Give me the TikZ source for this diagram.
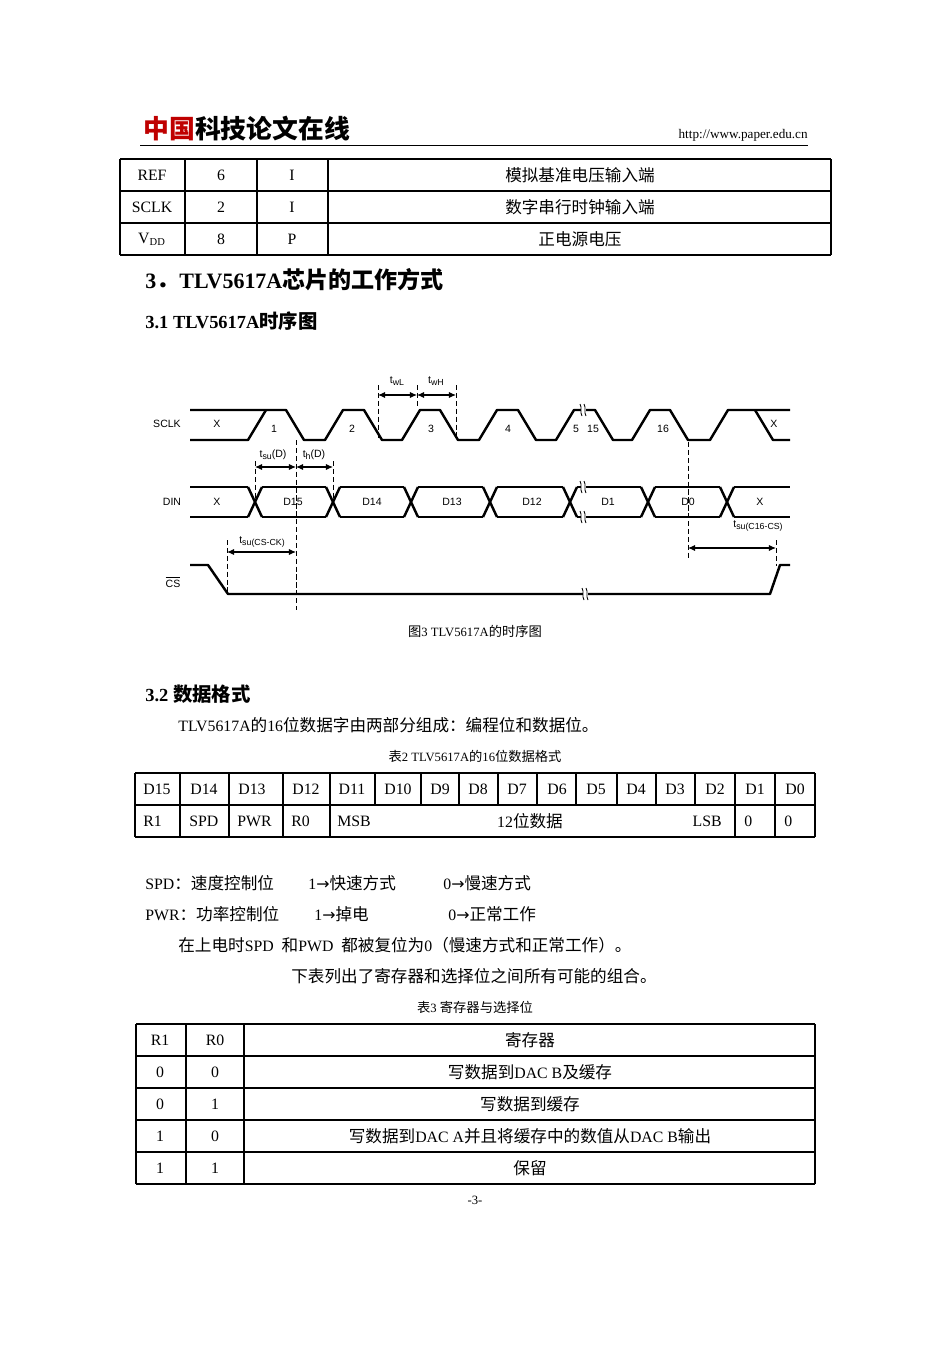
\documentclass[tikz,border=0pt]{standalone}
\usepackage{fontspec}
\setmainfont{Liberation Serif}
\newfontfamily\cjk[Scale=1.05]{Noto Sans CJK SC}
\newfontfamily\arial{Liberation Sans}
\newfontfamily\dv{DejaVu Sans}
\usetikzlibrary{arrows.meta}
\begin{document}
\begin{tikzpicture}[x=0.02cm,y=-0.02cm,
  tx/.style={inner sep=0pt,font=\fontsize{9}{11}\selectfont},
  capt/.style={inner sep=0pt,font=\fontsize{7.2}{9}\selectfont},
  hd/.style={inner sep=0pt,anchor=west,font=\fontsize{10.5}{12}\selectfont\bfseries},
  tl/.style={line width=0.6pt},
  sig/.style={line width=1.4pt,line join=round},
  dl/.style={dashed,line width=0.5pt,dash pattern=on 3pt off 1.5pt},
  thin/.style={dashed,line width=0.3pt,dash pattern=on 3pt off 1.5pt},
  ar/.style={line width=0.6pt,{Latex[length=4pt,width=3.5pt]}-{Latex[length=4pt,width=3.5pt]}},
  dt/.style={inner sep=0pt,font=\arial\fontsize{6}{7}\selectfont},
  brk/.style={line width=0.5pt}]
\useasboundingbox (0,0) rectangle (950,1345);
\fill[white] (0,0) rectangle (950,1345);
% header
\node[inner sep=0pt,anchor=west,font=\fontsize{14}{16}\selectfont] (logo) at (143,129) {{\cjk\bfseries\color{red!75!black}中国}{\cjk\bfseries 科技论文在线}};
\node[inner sep=0pt,anchor=east,font=\fontsize{7.5}{9}\selectfont] (url) at (808,135) {http://www.paper.edu.cn};
\draw[line width=0.5pt] (140,145) -- (808,145);
% table 1
\foreach \y in {159,191,223,255} \draw[tl] (120,\y) -- (831,\y);
\foreach \x in {120,185,257,328,831} \draw[tl] (\x,159) -- (\x,255);
\node[tx] (a1) at (152,175) {REF};
\node[tx] (a2) at (221,175) {6};
\node[tx] (a3) at (292,175) {I};
\node[tx] (a4) at (580,175) {\cjk 模拟基准电压输入端};
\node[tx] (b1) at (152,207) {SCLK};
\node[tx] (b2) at (221,207) {2};
\node[tx] (b3) at (292,207) {I};
\node[tx] (b4) at (580,207) {\cjk 数字串行时钟输入端};
\node[tx] (c1) at (152,239) {V\textsubscript{DD}};
\node[tx] (c2) at (221,239) {8};
\node[tx] (c3) at (292,239) {P};
\node[tx] (c4) at (580,239) {\cjk 正电源电压};
% headings
\node[hd,font=\fontsize{12.5}{14}\selectfont\bfseries] (h3) at (145,280) {3{\cjk ．}TLV5617A{\cjk\bfseries 芯片的工作方式}};
\node[hd] (h31) at (145,321) {3.1 TLV5617A{\cjk\bfseries 时序图}};
% ---------- timing diagram ----------
\node[dt] (lsclk) at (167,424) {SCLK};
\node[dt] (ldin) at (172,502) {DIN};
\node[dt] (lcs) at (173,582) {$\overline{\mbox{CS}}$};
\draw[sig] (190,440) -- (248,440) -- (266,410);
\draw[sig] (190,410) -- (286,410) -- (304,440) -- (325,440) -- (343,410) -- (364,410) -- (382,440) -- (402,440) -- (420,410) -- (440,410) -- (458,440) -- (479,440) -- (497,410) -- (518,410) -- (536,440) -- (556,440) -- (574,410) -- (595,410) -- (613,440) -- (632,440) -- (650,410) -- (670,410) -- (688,440) -- (710,440) -- (728,410) -- (790,410);
\draw[sig] (755,410) -- (773,440) -- (790,440);
% DIN
\foreach \c in {255,333,411,490,570,648,727} {
  \draw[sig] (\c-7,487) -- (\c+7,517);
  \draw[sig] (\c-7,517) -- (\c+7,487);}
\foreach \a/\b in {190/248,262/326,340/404,418/483,497/563,577/641,655/720,734/790} {
  \draw[sig] (\a,487) -- (\b,487);
  \draw[sig] (\a,517) -- (\b,517);}
\foreach \n/\x/\t in {d0/217/X,d1/293/D15,d2/372/D14,d3/452/D13,d4/532/D12,d5/608/D1,d6/688/D0,d7/760/X}
  \node[dt] (\n) at (\x,502) {\t};
% CS
\draw[sig] (190,565) -- (208,565) -- (228,594) -- (770,594) -- (780,565) -- (790,565);
% break marks
\foreach \x/\y in {583/410,583/487,583/517,585/594} {
  \fill[white] (\x-2.5,\y-3) rectangle (\x+2.5,\y+3);
  \draw[brk] (\x-3,\y-6) .. controls (\x-0.5,\y-2) and (\x-3.5,\y+2) .. (\x-1,\y+6);
  \draw[brk] (\x+1,\y-6) .. controls (\x+3.5,\y-2) and (\x+0.5,\y+2) .. (\x+3,\y+6);}
% labels
\node[dt] (n1) at (274,429) {1};
\node[dt] (n2) at (352,429) {2};
\node[dt] (n3) at (431,429) {3};
\node[dt] (n4) at (508,429) {4};
\node[dt] (n5) at (576,429) {5};
\node[dt] (n15) at (593,429) {15};
\node[dt] (n16) at (663,429) {16};
\node[dt] (nx1) at (217,424) {X};
\node[dt] (nx2) at (774,424) {X};
% timing annotations
\coordinate (w1t) at (378,385); \coordinate (w1b) at (378,440);
\coordinate (w2t) at (417,385); \coordinate (w2b) at (417,408);
\coordinate (w3t) at (456,385); \coordinate (w3b) at (456,440);
\draw[dl] (w1t) -- (w1b); \draw[dl] (w2t) -- (w2b); \draw[dl] (w3t) -- (w3b);
\coordinate (wa) at (378,395); \coordinate (wb) at (417,395); \coordinate (wc) at (456,395);
\draw[ar] (wa) -- (wb); \draw[ar] (wb) -- (wc);
\node[dt] (twl) at (397,381) {t{\fontsize{5}{6}\selectfont\raisebox{-1pt}{wL}}};
\node[dt] (twh) at (436,381) {t{\fontsize{5}{6}\selectfont\raisebox{-1pt}{wH}}};
\coordinate (s1t) at (255,461); \coordinate (s1b) at (255,500);
\coordinate (s2t) at (296,440); \coordinate (s2b) at (296,610);
\coordinate (s3t) at (333,461); \coordinate (s3b) at (333,500);
\draw[dl] (s1t) -- (s1b); \draw[thin] (s2t) -- (s2b); \draw[dl] (s3t) -- (s3b);
\coordinate (sa) at (255,467); \coordinate (sb) at (296,467); \coordinate (sc) at (333,467);
\draw[ar] (sa) -- (sb); \draw[ar] (sb) -- (sc);
\node[dt] (tsud) at (273,455) {t{\fontsize{5}{6}\selectfont\raisebox{-1pt}{su}}(D)};
\node[dt] (thd) at (314,455) {t{\fontsize{5}{6}\selectfont\raisebox{-1pt}{h}}(D)};
\coordinate (c1t) at (227,540); \coordinate (c1b) at (227,592);
\draw[dl] (c1t) -- (c1b);
\coordinate (ca) at (227,552); \coordinate (cb) at (296,552);
\draw[ar] (ca) -- (cb);
\node[dt] (tsucs) at (262,542) {t{\fontsize{5}{6}\selectfont\raisebox{-1pt}{su(CS-CK)}}};
\coordinate (e1t) at (688,442); \coordinate (e1b) at (688,560);
\coordinate (e2t) at (776,540); \coordinate (e2b) at (776,566);
\draw[dl] (e1t) -- (e1b); \draw[dl] (e2t) -- (e2b);
\coordinate (ea) at (688,548); \coordinate (eb) at (776,548);
\draw[ar] (ea) -- (eb);
\node[dt] (tsuc16) at (758,526) {t{\fontsize{5}{6}\selectfont\raisebox{-1pt}{su(C16-CS)}}};
\node[capt] (fig3) at (475,631) {{\cjk 图}3 TLV5617A{\cjk 的时序图}};
% 3.2
\node[hd] (h32) at (145,694) {3.2 {\cjk\bfseries 数据格式}};
\node[tx,anchor=west] (p1) at (178,725) {TLV5617A{\cjk 的}16{\cjk 位数据字由两部分组成：编程位和数据位。}};
\node[capt] (tab2) at (475,756) {{\cjk 表}2 TLV5617A{\cjk 的}16{\cjk 位数据格式}};
% table 2
\foreach \y in {773,805,837} \draw[tl] (135,\y) -- (815,\y);
\foreach \x in {135,180,229,283,330,735,775,815} \draw[tl] (\x,773) -- (\x,837);
\foreach \x in {375,421,459,498,537,576,617,656,695} \draw[tl] (\x,773) -- (\x,805);
\foreach \n/\x/\t in {t1/157/D15,t2/204/D14,t3/252/D13,t4/306/D12,t5/352/D11,t6/398/D10,t7/440/D9,t8/478/D8,t9/517/D7,t10/557/D6,t11/596/D5,t12/636/D4,t13/675/D3,t14/715/D2,t15/755/D1,t16/795/D0}
  \node[tx] (\n) at (\x,789) {\t};
\node[tx,anchor=west] (u1) at (143,821) {R1};
\node[tx,anchor=west] (u2) at (189,821) {SPD};
\node[tx,anchor=west] (u3) at (237,821) {PWR};
\node[tx,anchor=west] (u4) at (291,821) {R0};
\node[tx,anchor=west] (u5) at (337,821) {MSB};
\node[tx] (u6) at (530,821) {12{\cjk 位数据}};
\node[tx,anchor=east] (u7) at (722,821) {LSB};
\node[tx,anchor=west] (u8) at (744,821) {0};
\node[tx,anchor=west] (u9) at (784,821) {0};
% text
\node[tx,anchor=west] (q1) at (145,883) {SPD{\cjk ：速度控制位}};
\node[tx,anchor=west] (q2) at (308,883) {1{\dv →}{\cjk 快速方式}};
\node[tx,anchor=west] (q3) at (443,883) {0{\dv →}{\cjk 慢速方式}};
\node[tx,anchor=west] (r1) at (145,914) {PWR{\cjk ：功率控制位}};
\node[tx,anchor=west] (r2) at (314,914) {1{\dv →}{\cjk 掉电}};
\node[tx,anchor=west] (r3) at (448,914) {0{\dv →}{\cjk 正常工作}};
\node[tx,anchor=west] (s0) at (178,945) {{\cjk 在上电时}SPD\ \ {\cjk 和}PWD\ \ {\cjk 都被复位为}0{\cjk （慢速方式和正常工作）。}};
\node[tx,anchor=west] (s00) at (291,976) {\cjk 下表列出了寄存器和选择位之间所有可能的组合。};
\node[capt] (tab3) at (475,1007) {{\cjk 表}3 {\cjk 寄存器与选择位}};
% table 3
\foreach \y in {1024,1056,1088,1120,1152,1184} \draw[tl] (136,\y) -- (815,\y);
\foreach \x in {136,186,244,815} \draw[tl] (\x,1024) -- (\x,1184);
\node[tx] (v1) at (160,1040) {R1};
\node[tx] (v2) at (215,1040) {R0};
\node[tx] (v3) at (530,1040) {\cjk 寄存器};
\node[tx] (w11) at (160,1072) {0};
\node[tx] (w12) at (215,1072) {0};
\node[tx] (w13) at (530,1072) {{\cjk 写数据到}DAC B{\cjk 及缓存}};
\node[tx] (w21) at (160,1104) {0};
\node[tx] (w22) at (215,1104) {1};
\node[tx] (w23) at (530,1104) {\cjk 写数据到缓存};
\node[tx] (w31) at (160,1136) {1};
\node[tx] (w32) at (215,1136) {0};
\node[tx] (w33) at (530,1136) {{\cjk 写数据到}DAC A{\cjk 并且将缓存中的数值从}DAC B{\cjk 输出}};
\node[tx] (w41) at (160,1168) {1};
\node[tx] (w42) at (215,1168) {1};
\node[tx] (w43) at (530,1168) {\cjk 保留};
\node[capt] (pg) at (475,1200) {-3-};
\end{tikzpicture}
\end{document}
